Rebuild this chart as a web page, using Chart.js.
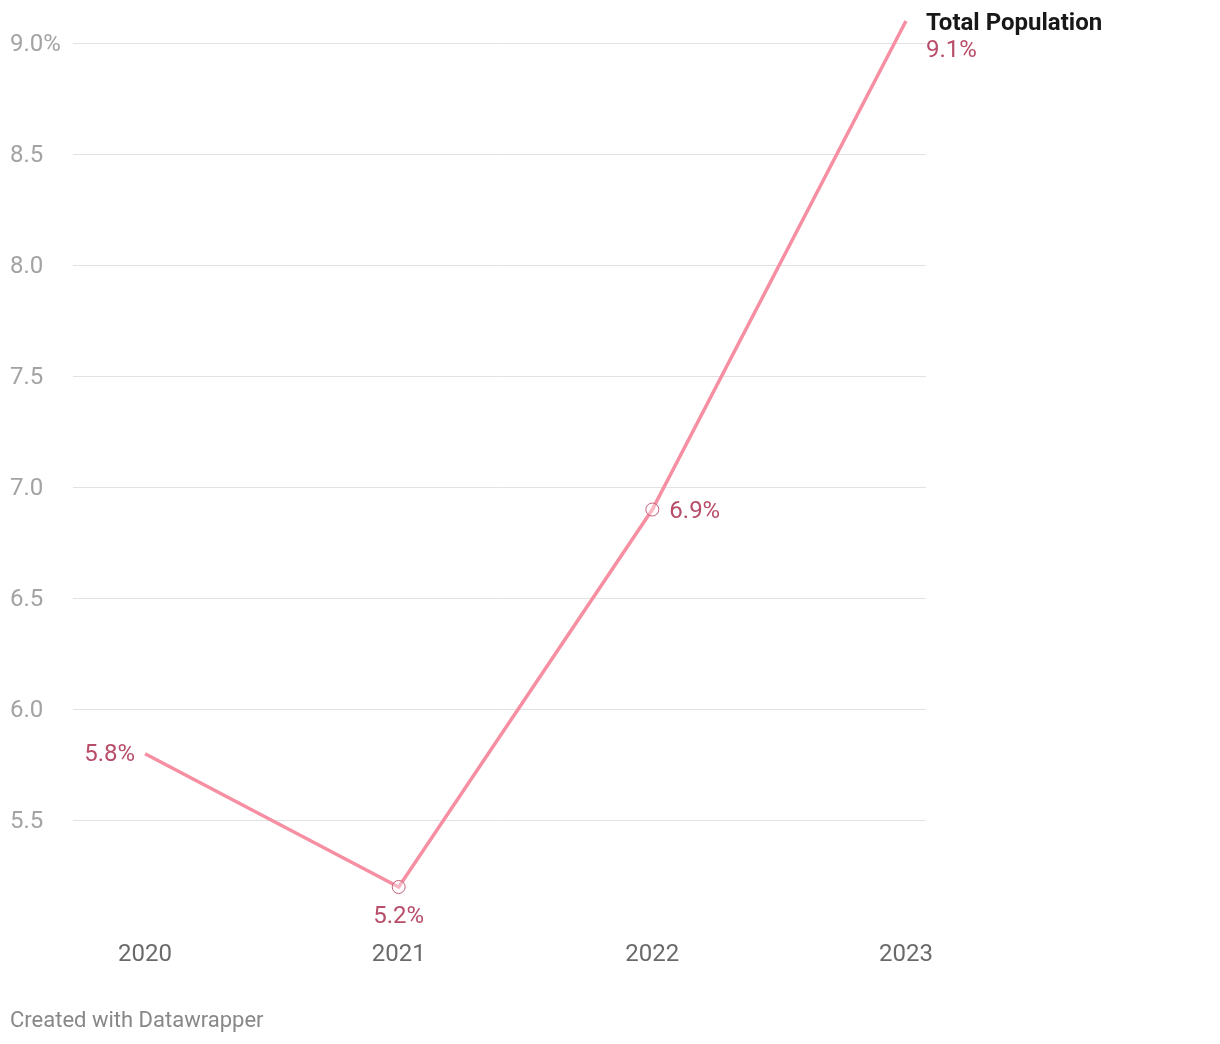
<!DOCTYPE html>
<html>
<head>
<meta charset="utf-8">
<script src="https://cdn.jsdelivr.net/npm/chart.js@4"></script>
<style>
  html, body { margin: 0; padding: 0; background: #fff; }
  #wrap { position: relative; width: 1220px; height: 1044px; }
  #footer {
    position: absolute; left: 10px; top: 1007px;
    font: 22px Roboto, sans-serif; color: #888;
  }
</style>
</head>
<body>
<div id="wrap">
  <canvas id="chart" width="1220" height="1044"></canvas>
  <div id="footer">Created with Datawrapper</div>
</div>
<script>
// data
const years = [2020, 2021, 2022, 2023];
const totalPopulation = [5.8, 5.2, 6.9, 9.1];
const yTicks = [5.5, 6.0, 6.5, 7.0, 7.5, 8.0, 8.5, 9.0];
const seriesName = "Total Population";

const LINE = "#f78fa3";
const LABEL = "#b84d69";
const FONT = "Roboto, sans-serif";

// where each value label sits relative to its point
const labelPlace = ["left", "below", "right", "end"];

const valueLabels = {
    id: "valueLabels",
    afterDatasetsDraw(chart) {
        const ctx = chart.ctx;
        const meta = chart.getDatasetMeta(0);
        ctx.save();
        ctx.font = "24px " + FONT;
        ctx.fillStyle = LABEL;
        meta.data.forEach((pt, i) => {
            const txt = totalPopulation[i].toFixed(1) + "%";
            const place = labelPlace[i];
            ctx.textBaseline = "middle";
            if (place === "left") {
                ctx.textAlign = "right";
                ctx.fillText(txt, pt.x - 10, pt.y + 1);
            } else if (place === "below") {
                ctx.textAlign = "center";
                ctx.fillText(txt, pt.x, pt.y + 30);
            } else if (place === "right") {
                ctx.textAlign = "left";
                ctx.fillText(txt, pt.x + 17, pt.y + 2);
            } else {
                const x = chart.chartArea.right;
                ctx.textAlign = "left";
                ctx.fillText(txt, x, pt.y + 30);
                ctx.font = "bold 24px " + FONT;
                ctx.fillStyle = "#181818";
                ctx.fillText(seriesName, x, pt.y + 3);
            }
        });
        ctx.restore();
    }
};

new Chart(document.getElementById("chart"), {
    type: "line",
    data: {
        datasets: [{
            label: seriesName,
            data: years.map((y, i) => ({ x: y, y: totalPopulation[i] })),
            borderColor: LINE,
            borderWidth: 3.5,
            tension: 0,
            pointRadius: [0, 6.5, 6.5, 0],
            pointBorderWidth: 1,
            pointBorderColor: "#c4607a",
            pointBackgroundColor: "rgba(255,255,255,0.35)",
            clip: false,
        }]
    },
    options: {
        responsive: false,
        animation: false,
        events: [],
        layout: { padding: { left: 10, top: 21, right: 294, bottom: 77 } },
        plugins: { legend: { display: false }, tooltip: { enabled: false } },
        scales: {
            x: {
                type: "linear",
                min: 2019.716,
                max: 2023.079,
                afterBuildTicks: (s) => { s.ticks = years.map(v => ({ value: v })); },
                afterFit: (s) => { s.height = 80; },
                grid: { display: false },
                border: { display: false },
                ticks: {
                    padding: 46,
                    color: "#6a6a6a",
                    font: { family: FONT, size: 24 },
                    callback: (v) => String(v),
                },
            },
            y: {
                min: 5.2,
                max: 9.1,
                afterBuildTicks: (s) => { s.ticks = yTicks.map(v => ({ value: v })); },
                afterFit: (s) => { s.width = 63; },
                grid: { color: "#e2e2e2", lineWidth: 1, drawTicks: false },
                border: { display: false },
                ticks: {
                    crossAlign: "far",
                    padding: 0,
                    labelOffset: 2,
                    color: "#a3a3a3",
                    font: { family: FONT, size: 24 },
                    callback: (v) => v === 9 ? "9.0%" : v.toFixed(1),
                },
            }
        }
    },
    plugins: [valueLabels]
});
</script>
</body>
</html>
